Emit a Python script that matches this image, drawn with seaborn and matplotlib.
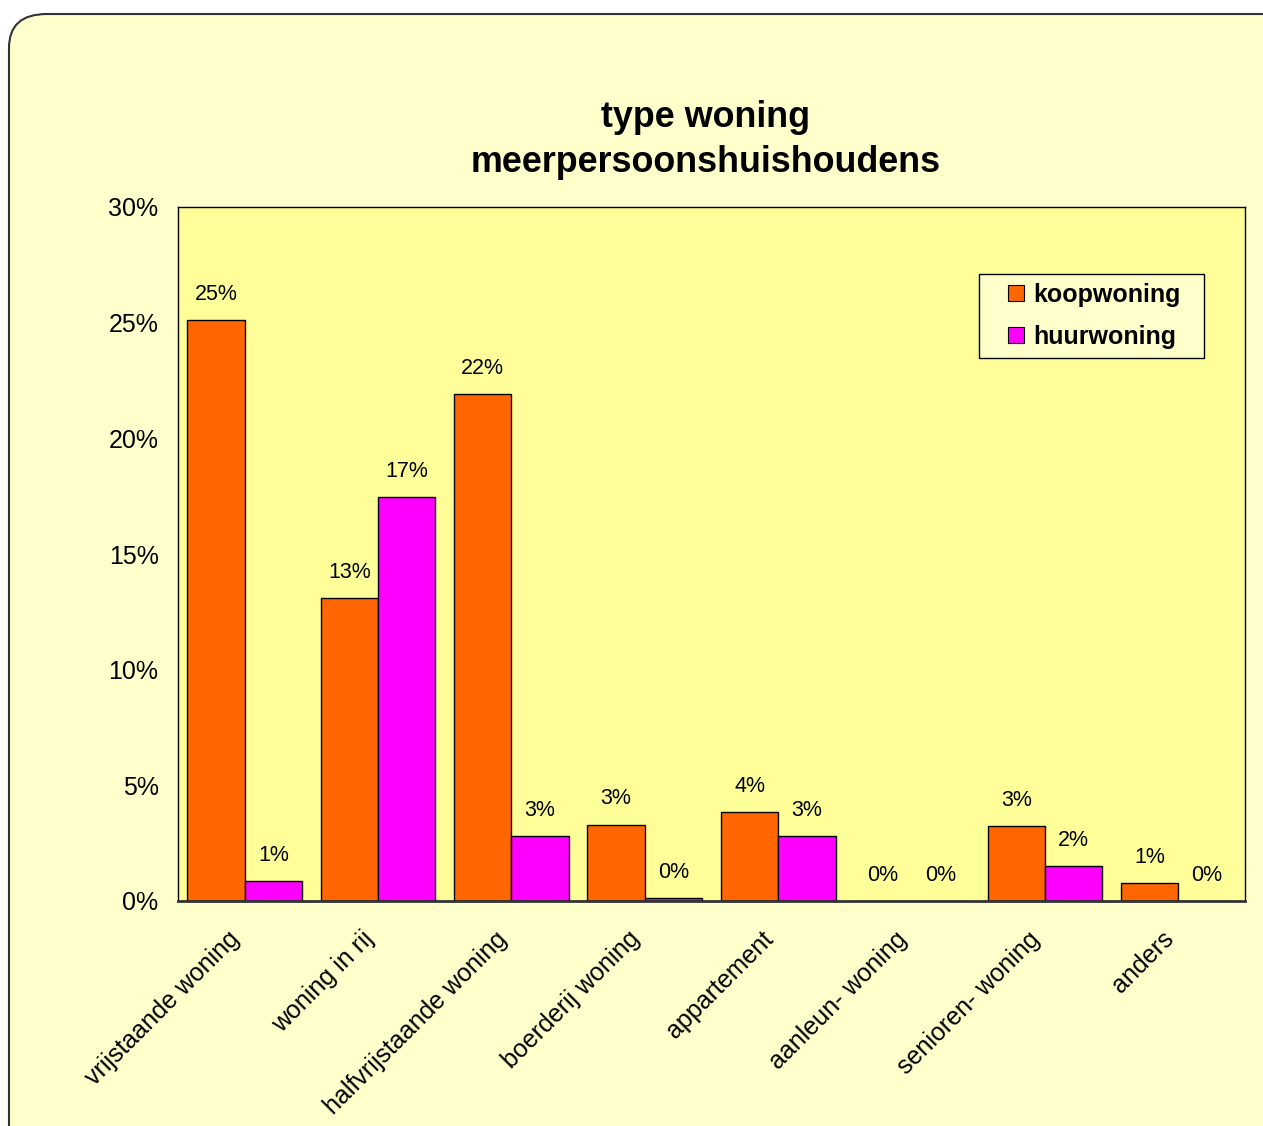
import pandas as pd
import numpy as np
import matplotlib
matplotlib.use("Agg")
import matplotlib.pyplot as plt
import matplotlib.transforms as mtransforms
from matplotlib.patches import FancyBboxPatch, Rectangle
from matplotlib.lines import Line2D
from matplotlib.ticker import PercentFormatter
import seaborn as sns

# data (percentages)
categories = ["vrijstaande woning", "woning in rij", "halfvrijstaande woning",
              "boerderij woning", "appartement", "aanleun- woning",
              "senioren- woning", "anders"]
koopwoning = [25.1, 13.1, 21.9, 3.3, 3.85, 0.0, 3.24, 0.78]
huurwoning = [0.86, 17.45, 2.8, 0.13, 2.8, 0.0, 1.52, 0.0]
series_names = ["koopwoning", "huurwoning"]
colors = {"koopwoning": "#FF6600", "huurwoning": "#FF00FF"}

df = pd.DataFrame({
    "type": categories * 2,
    "serie": [series_names[0]] * len(categories) + [series_names[1]] * len(categories),
    "pct": koopwoning + huurwoning,
})

sns.set_style("white")
plt.rcParams['font.family'] = ['Liberation Sans', 'DejaVu Sans']
plt.rcParams['text.color'] = 'black'
plt.rcParams['xtick.color'] = 'black'
plt.rcParams['ytick.color'] = 'black'

fig = plt.figure(figsize=(12.63, 11.26), dpi=100)
fig.patch.set_facecolor("white")

# rounded chart border
border = FancyBboxPatch((9 / 1263, -0.05), 1.2, 1.05 - 14 / 1126,
                        boxstyle="round,pad=0,rounding_size=0.03",
                        transform=fig.transFigure, facecolor="#FFFFCC",
                        edgecolor="#333333", linewidth=1.5, zorder=-10)
fig.patches.append(border)

ax = fig.add_axes([178 / 1263, 1 - 901 / 1126, (1245 - 178) / 1263, (901 - 207) / 1126])
ax.set_facecolor("#FFFF99")

sns.barplot(data=df, x="type", y="pct", hue="serie", palette=colors,
            saturation=1, width=0.86, gap=0, edgecolor="black", linewidth=1,
            legend=False, ax=ax)

for cont in ax.containers:
    ax.bar_label(cont, labels=[f"{round(b.get_height()):.0f}%" for b in cont],
                 padding=11, fontsize=15.5, color="black")

ax.set_ylim(0, 30)
ax.set_yticks(range(0, 31, 5))
ax.yaxis.set_major_formatter(PercentFormatter(xmax=100, decimals=0))
ax.set_xlim(-0.5, len(categories) - 0.5)
ax.set_xlabel("")
ax.set_ylabel("")
ax.tick_params(axis="y", labelsize=18, length=0, pad=14)
ax.tick_params(axis="x", labelsize=18, length=0, pad=10)
shift = mtransforms.ScaledTranslation(-17 / 100, -12 / 100, fig.dpi_scale_trans)
for lbl in ax.get_xticklabels():
    lbl.set_rotation(45)
    lbl.set_ha("right")
    lbl.set_rotation_mode("anchor")
    lbl.set_transform(lbl.get_transform() + shift)

for side in ["top", "right", "left"]:
    ax.spines[side].set_color("black")
    ax.spines[side].set_linewidth(1)
ax.spines["bottom"].set_color("#333333")
ax.spines["bottom"].set_linewidth(2)

# legend (frame drawn separately so the side padding can be wider than top/bottom)
handles = [Line2D([], [], marker="s", linestyle="", markersize=11.5,
                  markerfacecolor=colors[s], markeredgecolor="black",
                  markeredgewidth=0.8) for s in series_names]
leg = ax.legend(handles, series_names, loc="upper left",
                bbox_to_anchor=((1003 - 178) / 1067, (901 - 283) / 694),
                borderaxespad=0, prop={"weight": "bold", "size": 18},
                frameon=False, handlelength=1.0, handletextpad=0.2,
                labelspacing=0.72, borderpad=0)
fig.canvas.draw()
bb = leg.get_window_extent().transformed(fig.transFigure.inverted())
px, py = 24 / 1263, 9 / 1126
frame = Rectangle((bb.x0 - px, bb.y0 - py), bb.width + 2 * px, bb.height + 2 * py,
                  transform=fig.transFigure, facecolor="#FFFFCC",
                  edgecolor="black", linewidth=1, zorder=4)
ax.add_artist(frame)

fig.text(0.559, 1 - 140 / 1126, "type woning\nmeerpersoonshuishoudens",
         ha="center", va="center", fontsize=25.8, fontweight="bold",
         linespacing=1.4)

fig.savefig("out.png", dpi=100, facecolor=fig.get_facecolor())
